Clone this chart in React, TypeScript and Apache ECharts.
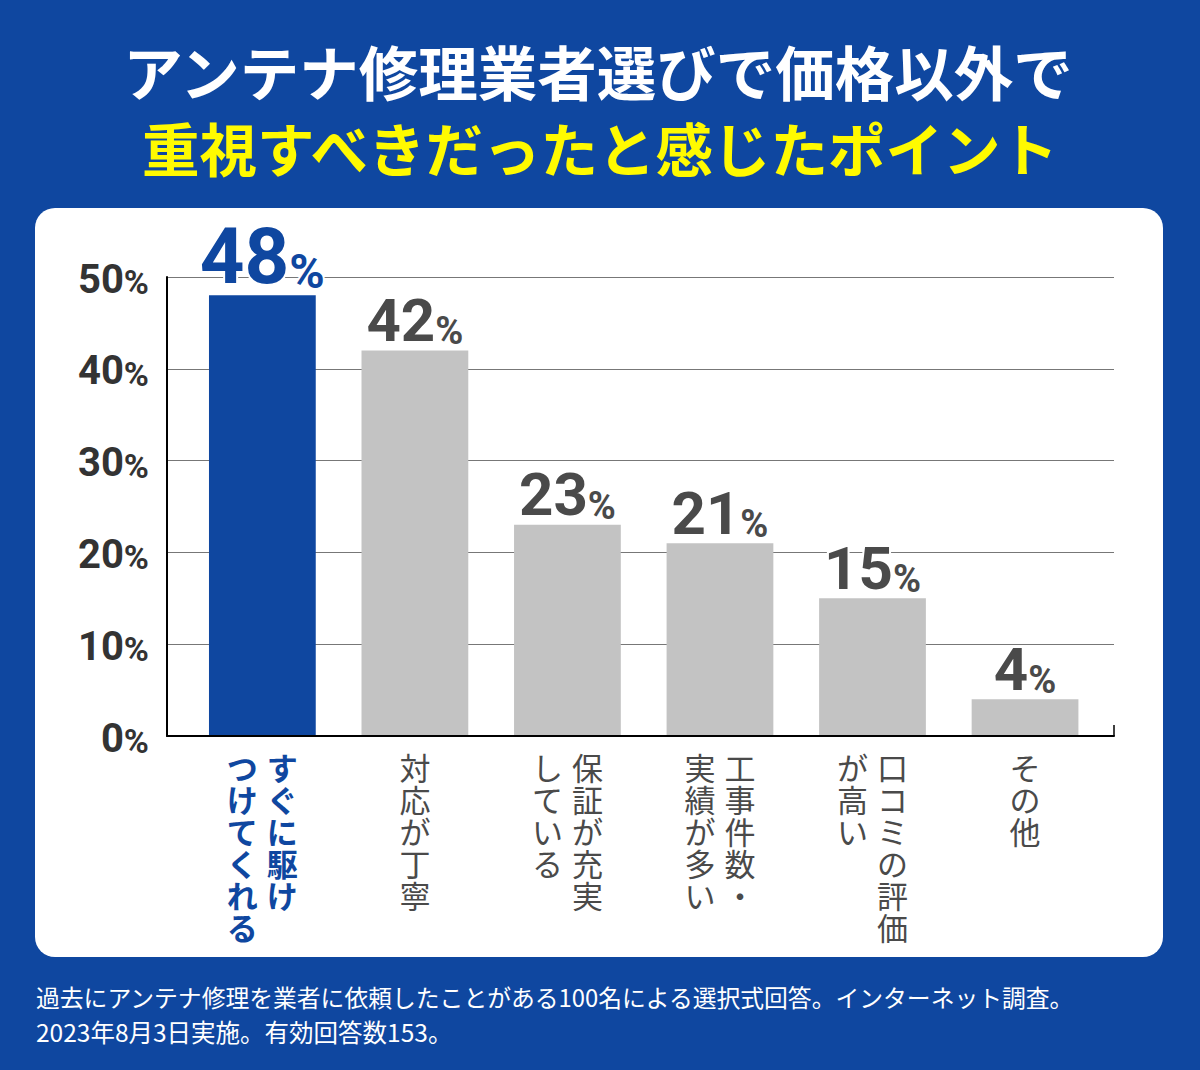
import React, { useEffect, useRef } from "react";
import * as echarts from "echarts";

const TITLE_LINE_1 = "アンテナ修理業者選びで価格以外で";
const TITLE_LINE_2 = "重視すべきだったと感じたポイント";
const NOTE_LINE_1 = "過去にアンテナ修理を業者に依頼したことがある100名による選択式回答。インターネット調査。";
const NOTE_LINE_2 = "2023年8月3日実施。有効回答数153。";

const categories = [
  "すぐに駆けつけてくれる",
  "対応が丁寧",
  "保証が充実している",
  "工事件数・実績が多い",
  "口コミの評価が高い",
  "その他",
];
// vertical label columns: first entry is the right-hand (first-read) column
const labelColumns = [
  ["すぐに駆け", "つけてくれる"],
  ["対応が丁寧"],
  ["保証が充実", "している"],
  ["工事件数・", "実績が多い"],
  ["口コミの評価", "が高い"],
  ["その他"],
];
const values = [48, 42, 23, 21, 15, 4];
const yTicks = [0, 10, 20, 30, 40, 50];

const BLUE = "#0f47a0";
const GRAY_BAR = "#c3c3c3";
const TEXT_GRAY = "#4a4a4a";
const JP = '"Noto Sans CJK JP", sans-serif';
const NUM = 'Roboto, "Liberation Sans", sans-serif';

export default function App() {
  const ref = useRef<HTMLDivElement>(null);

  useEffect(() => {
    document.body.style.margin = "0";
    if (!ref.current) return;
    const chart = echarts.init(ref.current, null, { renderer: "svg" });

    const catTok = (color: string, weight: string) => ({
      fontSize: 31,
      lineHeight: 32,
      width: 40,
      align: "center",
      color,
      fontWeight: weight,
      fontFamily: JP,
    });

    const numTok = (size: number, lh: number, color: string) => ({
      fontSize: size,
      lineHeight: lh,
      verticalAlign: "bottom",
      fontWeight: "bold",
      fontFamily: NUM,
      color,
      textBorderColor: "#fff",
      textBorderWidth: 4,
    });

    const option: any = {
      animation: false,
      backgroundColor: BLUE,
      graphic: [
        {
          type: "rect",
          z: -100,
          shape: { x: 35, y: 208, width: 1128, height: 749, r: 20 },
          style: { fill: "#ffffff" },
        },
        {
          type: "text",
          x: 598,
          y: 70,
          style: {
            text: TITLE_LINE_1,
            fill: "#ffffff",
            fontSize: 59.5,
            fontWeight: "bold",
            fontFamily: JP,
            align: "center",
            verticalAlign: "middle",
            textAlign: "center",
            textVerticalAlign: "middle",
          },
        },
        {
          type: "text",
          x: 600,
          y: 147,
          style: {
            text: TITLE_LINE_2,
            fill: "#fffa00",
            fontSize: 57.5,
            fontWeight: "bold",
            fontFamily: JP,
            align: "center",
            verticalAlign: "middle",
            textAlign: "center",
            textVerticalAlign: "middle",
          },
        },
        {
          type: "text",
          x: 36,
          y: 996,
          style: {
            text: NOTE_LINE_1,
            fill: "#ffffff",
            fontSize: 23.8,
            fontFamily: JP,
            align: "left",
            verticalAlign: "middle",
            textAlign: "left",
            textVerticalAlign: "middle",
          },
        },
        {
          type: "text",
          x: 36,
          y: 1031,
          style: {
            text: NOTE_LINE_2,
            fill: "#ffffff",
            fontSize: 24.5,
            fontFamily: JP,
            align: "left",
            verticalAlign: "middle",
            textAlign: "left",
            textVerticalAlign: "middle",
          },
        },
      ],
      grid: [
        { left: 167, right: 86, top: 277, bottom: 334 },
        { left: 186.1, right: 98.7, top: 277, bottom: 334 },
      ],
      xAxis: [
        {
          type: "value",
          gridIndex: 0,
          min: 0,
          max: 1,
          interval: 1,
          z: 5,
          axisLine: { show: true, lineStyle: { color: "#000", width: 2 } },
          axisTick: { show: true, inside: true, length: 11, lineStyle: { color: "#000", width: 1.5 } },
          axisLabel: { show: false },
          splitLine: { show: false },
        },
        {
          type: "category",
          gridIndex: 1,
          data: categories,
          axisLine: { show: false },
          axisTick: { show: false },
          axisLabel: {
            interval: 0,
            margin: 14,
            verticalAlign: "top",
            formatter: (_v: string, index: number) => {
              const cols = labelColumns[index];
              const p = index === 0 ? "b" : "g";
              const n = Math.max(...cols.map((c) => Array.from(c).length));
              const lines: string[] = [];
              for (let i = 0; i < n; i++) {
                if (cols.length === 1) {
                  lines.push(`{${p}s|${Array.from(cols[0])[i] ?? "　"}}`);
                } else {
                  const r = Array.from(cols[0])[i] ?? "　";
                  const l = Array.from(cols[1])[i] ?? "　";
                  lines.push(`{${p}l|${l}}{${p}r|${r}}`);
                }
              }
              return lines.join("\n");
            },
            rich: {
              bl: catTok(BLUE, "bold"),
              br: catTok(BLUE, "bold"),
              bs: catTok(BLUE, "bold"),
              gl: catTok(TEXT_GRAY, "normal"),
              gr: catTok(TEXT_GRAY, "normal"),
              gs: catTok(TEXT_GRAY, "normal"),
            },
          },
        },
      ],
      yAxis: [
        {
          type: "value",
          gridIndex: 0,
          min: yTicks[0],
          max: yTicks[yTicks.length - 1],
          interval: 10,
          axisLine: { show: true, lineStyle: { color: "#000", width: 2 } },
          axisTick: { show: false },
          splitLine: { show: true, lineStyle: { color: "#777", width: 1 } },
          axisLabel: {
            margin: 18,
            padding: [4, 0, 0, 0],
            formatter: (v: number) => `{d|${v}}{q|%}`,
            rich: {
              d: {
                fontSize: 40,
                lineHeight: 40,
                verticalAlign: "bottom",
                fontWeight: "bold",
                fontFamily: NUM,
                color: "#333",
              },
              q: {
                fontSize: 34,
                lineHeight: 36,
                verticalAlign: "bottom",
                fontWeight: "bold",
                fontFamily: NUM,
                color: "#333",
              },
            },
          },
        },
        {
          type: "value",
          gridIndex: 1,
          min: 0,
          max: 50,
          show: false,
        },
      ],
      series: [
        {
          type: "bar",
          xAxisIndex: 1,
          yAxisIndex: 1,
          barWidth: "70%",
          data: values.map((v, i) => ({
            value: v,
            itemStyle: { color: i === 0 ? BLUE : GRAY_BAR },
          })),
          label: {
            show: true,
            position: "top",
            distance: 0,
            formatter: (p: any) =>
              p.dataIndex === 0 ? `{bn|${p.value}}{bp|%}` : `{n|${p.value}}{p|%}`,
            rich: {
              bn: numTok(78, 78, BLUE),
              bp: numTok(48, 58, BLUE),
              n: numTok(60, 60, TEXT_GRAY),
              p: numTok(38, 45, TEXT_GRAY),
            },
          },
        },
      ],
    };

    chart.setOption(option);
    return () => chart.dispose();
  }, []);

  return <div ref={ref} style={{ width: 1200, height: 1070 }} />;
}
